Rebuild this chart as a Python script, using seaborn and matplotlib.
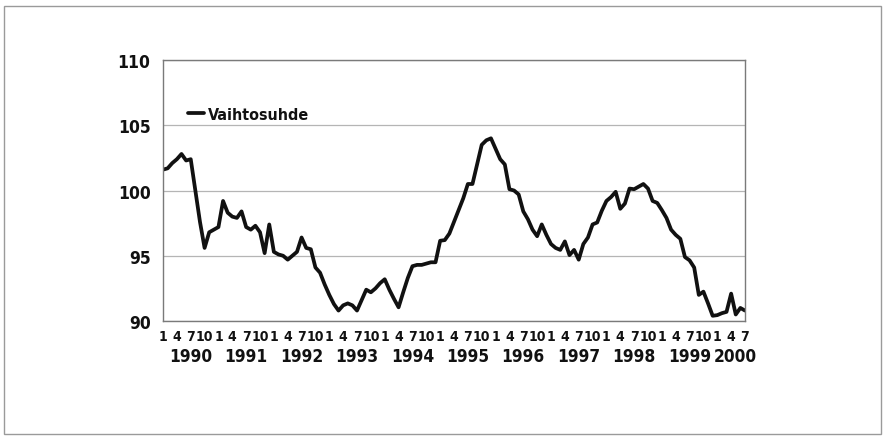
import numpy as np
import pandas as pd
import matplotlib
matplotlib.use("Agg")
import matplotlib.pyplot as plt
import seaborn as sns

sns.set_theme(style="white")
plt.rcParams['font.family'] = ['DejaVu Sans']
plt.rcParams['font.stretch'] = 'condensed'

# monthly terms-of-trade index, Jan 1990 .. Jul 2000
years = [1990, 1991, 1992, 1993, 1994, 1995, 1996, 1997, 1998, 1999, 2000]
v1990 = [101.6, 101.7, 102.1, 102.4, 102.8, 102.3, 102.4, 100.0, 97.6, 95.6, 96.8, 97.0]
v1991 = [97.2, 99.2, 98.3, 98.0, 97.9, 98.4, 97.2, 97.0, 97.3, 96.8, 95.2, 97.4]
v1992 = [95.3, 95.1, 95.0, 94.7, 95.0, 95.3, 96.4, 95.6, 95.5, 94.1, 93.7, 92.8]
v1993 = [92.0, 91.3, 90.8, 91.2, 91.35, 91.2, 90.8, 91.6, 92.4, 92.2, 92.5, 92.9]
v1994 = [93.2, 92.4, 91.7, 91.05, 92.2, 93.3, 94.2, 94.3, 94.3, 94.4, 94.5, 94.5]
v1995 = [96.15, 96.2, 96.7, 97.6, 98.5, 99.4, 100.5, 100.5, 102.0, 103.5, 103.85, 104.0]
v1996 = [103.2, 102.4, 102.0, 100.1, 100.0, 99.7, 98.4, 97.8, 97.0, 96.5, 97.4, 96.6]
v1997 = [95.9, 95.6, 95.45, 96.1, 95.05, 95.45, 94.7, 95.9, 96.4, 97.4, 97.55, 98.45]
v1998 = [99.2, 99.5, 99.9, 98.6, 99.0, 100.15, 100.1, 100.3, 100.5, 100.15, 99.2, 99.05]
v1999 = [98.5, 97.9, 97.0, 96.6, 96.3, 94.9, 94.65, 94.1, 92.0, 92.25, 91.35, 90.4]
v2000 = [90.45, 90.6, 90.7, 92.1, 90.5, 91.0, 90.8]

series_label = "Vaihtosuhde"
month_labels = ["1", "4", "7", "10"]
yticks = [90, 95, 100, 105, 110]

values = v1990 + v1991 + v1992 + v1993 + v1994 + v1995 + v1996 + v1997 + v1998 + v1999 + v2000
df = pd.DataFrame({"month": np.arange(len(values)), "value": values})

fig = plt.figure(figsize=(8.85, 4.39), dpi=100)
ax = fig.add_axes([0.1842, 0.2665, 0.6576, 0.5945])

sns.lineplot(data=df, x="month", y="value", ax=ax, color="#111111", linewidth=2.7,
             label=series_label, legend=False)

ax.set_xlim(0, len(values) - 1)
ax.set_ylim(90, 110)
ax.set_yticks(yticks)
ax.set_yticklabels([str(t) for t in yticks], fontsize=12.5, fontweight="bold", color="#111111")
ax.yaxis.grid(True, color="#b5b5b5", linewidth=0.9)
ax.xaxis.grid(False)
ax.tick_params(axis="both", length=0, pad=9)
ax.set_xlabel("")
ax.set_ylabel("")
for sp in ax.spines.values():
    sp.set_color("#7a7a7a")
    sp.set_linewidth(1.0)

# month ticks 1,4,7,10 within each year
pos, labs = [], []
for i, yr in enumerate(years):
    for j, ml in enumerate(month_labels):
        m = i * 12 + j * 3
        if m <= len(values) - 1:
            pos.append(m)
            labs.append(ml)
ax.set_xticks(pos)
ax.set_xticklabels(labs, fontsize=10, fontweight="bold", color="#111111")
ax.tick_params(axis="x", pad=6)

# year labels under months
for i, yr in enumerate(years):
    last = min(i * 12 + 11, len(values) - 1)
    center = (i * 12 + last) / 2 + 0.5
    if last - i * 12 < 11:
        center += 0.5  # partial final year sits a little further right
    ax.text(center, -0.1, str(yr), transform=ax.get_xaxis_transform(),
            ha="center", va="top", fontsize=12.4, fontweight="bold", color="#111111")

leg = ax.legend(loc="upper left", bbox_to_anchor=(0.032, 0.845), frameon=False,
                handlelength=1.0, handletextpad=0.25, borderaxespad=0,
                prop={"size": 11.5, "weight": "bold", "stretch": "condensed"})
for t in leg.get_texts():
    t.set_color("#111111")

# outer border of the picture
fig.patches.append(plt.Rectangle((0.005, 0.01), 0.99, 0.975, transform=fig.transFigure,
                                 fill=False, edgecolor="#9a9a9a", linewidth=1.0))

fig.savefig("out.png", dpi=100)
